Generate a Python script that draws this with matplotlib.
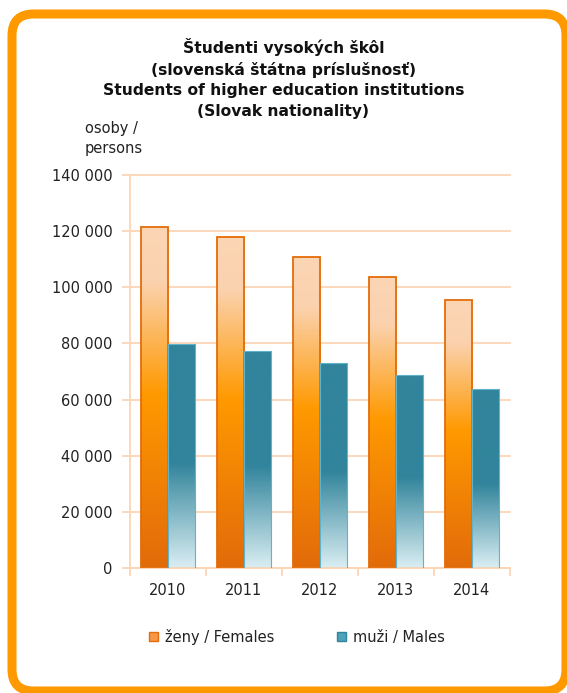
import numpy as np
import matplotlib
matplotlib.use("Agg")
from matplotlib import pyplot as plt
from matplotlib.colors import LinearSegmentedColormap
from matplotlib.patches import FancyBboxPatch, Patch
from matplotlib.ticker import FuncFormatter

years = ["2010", "2011", "2012", "2013", "2014"]
females = [121300, 118000, 110700, 103600, 95600]
males = [79700, 77400, 73100, 68800, 63900]

title = ("Študenti vysokých škôl\n(slovenská štátna príslušnosť)\n"
         "Students of higher education institutions\n(Slovak nationality)")
unit_label = "osoby /\npersons"
legend_labels = ["ženy / Females", "muži / Males"]

ORANGE_EDGE = "#E46C0A"
TEAL = "#31849B"
GRID = "#FCD5B5"

female_cmap = LinearSegmentedColormap.from_list(
    "fem", [(0.0, "#FCD5B5"), (0.16, "#FBD2AE"), (0.49, "#FF9900"), (1.0, "#E26B0A")])
male_cmap = LinearSegmentedColormap.from_list(
    "mal", [(0.0, TEAL), (0.53, TEAL), (1.0, "#DAEEF3")])


def gradient_fill(ax, bars, cmap):
    """
    Paint each bar with a vertical gradient (top -> bottom).
    """
    grad = np.linspace(0, 1, 256).reshape(-1, 1)
    for rect in bars:
        x0, y0 = rect.get_x(), rect.get_y()
        x1, y1 = x0 + rect.get_width(), y0 + rect.get_height()
        im = ax.imshow(grad, cmap=cmap, aspect="auto", origin="upper",
                       extent=(x0, x1, y0, y1), zorder=2, interpolation="bilinear")
        im.set_clip_path(rect)


fig = plt.figure(figsize=(5.67, 6.93), dpi=100)

# rounded orange frame
frame = FancyBboxPatch((12 / 567, 2 / 693), (566 - 12) / 567, (679 - 2) / 693,
                       boxstyle="round,pad=0,rounding_size=0.038",
                       transform=fig.transFigure, facecolor="white",
                       edgecolor="#FF9900", linewidth=6.5, zorder=-5,
                       mutation_aspect=567 / 693)
fig.patches.append(frame)

ax = fig.add_axes([129.5 / 567, 1 - 568 / 693, (510 - 129.5) / 567, (568 - 175) / 693])
ax.set_facecolor("none")

x = np.arange(len(years))
w = 0.355
fem_bars = ax.bar(x - w / 2, females, w, facecolor="none", edgecolor=ORANGE_EDGE,
                  linewidth=1.3, zorder=3)
mal_bars = ax.bar(x + w / 2, males, w, facecolor="none", edgecolor="#5FB4CC",
                  linewidth=0.8, zorder=3)
gradient_fill(ax, fem_bars, female_cmap)
gradient_fill(ax, mal_bars, male_cmap)

ax.set_xlim(-0.5, len(years) - 0.5)
ax.set_ylim(0, 140000)
ax.set_yticks(np.arange(0, 140001, 20000))
ax.yaxis.set_major_formatter(FuncFormatter(lambda v, p: f"{int(v):,}".replace(",", " ")))
ax.grid(axis="y", color=GRID, linewidth=1.3, zorder=1)
ax.set_axisbelow(True)
for gl in ax.get_ygridlines():
    gl.set_clip_on(False)

ax.set_xticks(x)
ax.set_xticklabels(years)
ax.set_xticks(np.arange(-0.5, len(years)), minor=True)
ax.tick_params(axis="x", which="major", length=0, pad=11, labelsize=10.5, labelcolor="#222222")
ax.tick_params(axis="x", which="minor", length=6, color=GRID, width=1.3)
ax.tick_params(axis="y", length=6, color=GRID, width=1.3, pad=6, labelsize=10.5,
               labelcolor="#222222")

for s in ["top", "right"]:
    ax.spines[s].set_visible(False)
for s in ["left", "bottom"]:
    ax.spines[s].set_color(GRID)
    ax.spines[s].set_linewidth(1.3)

fig.text(0.5, 1 - 78.5 / 693, title, ha="center", va="center", fontsize=11.2,
         fontweight="bold", linespacing=1.45, color="#111111")
fig.text(85 / 567, 1 - 138.5 / 693, unit_label, ha="left", va="center", fontsize=10.5,
         linespacing=1.4, color="#222222")

handles = [Patch(facecolor="#F79646", edgecolor=ORANGE_EDGE, linewidth=1.0),
           Patch(facecolor="#4BA3BA", edgecolor=TEAL, linewidth=1.0)]
fig.legend(handles, legend_labels, loc="center", bbox_to_anchor=(0.524, 1 - 637 / 693),
           ncol=2, frameon=False, fontsize=10.5, handlelength=0.6, handleheight=0.6,
           handletextpad=0.5, columnspacing=4.3, labelcolor="#222222")

fig.savefig("out.png", dpi=100)
